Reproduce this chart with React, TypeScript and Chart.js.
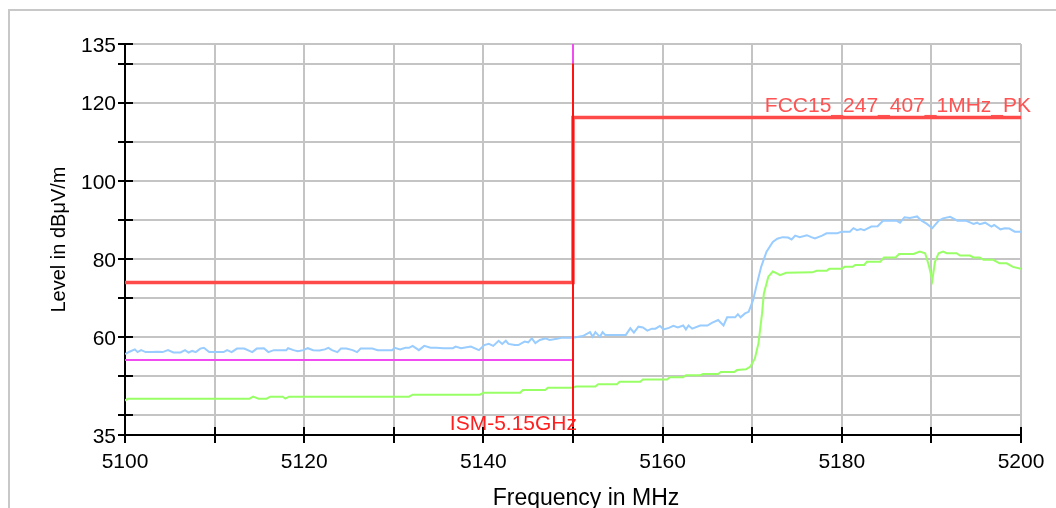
import React, { useEffect, useRef } from 'react';
import { Chart, registerables } from 'chart.js';

Chart.register(...registerables);

const FONT = "'Liberation Sans', Arial, Helvetica, sans-serif";

// Axis ticks and labels
const xTickValues = [5100, 5110, 5120, 5130, 5140, 5150, 5160, 5170, 5180, 5190, 5200];
const xLabelValues = [5100, 5120, 5140, 5160, 5180, 5200];
const yTickValues = [35, 40, 50, 60, 70, 80, 90, 100, 110, 120, 130, 135];
const yLabelValues = [35, 60, 80, 100, 120, 135];

// Peak trace (light blue)
const blueFreq = [
  5100.0, 5100.5, 5101.1, 5101.4, 5101.8, 5102.3, 5103.0, 5103.6, 5104.2, 5104.8,
  5105.4, 5106.2, 5106.7, 5107.1, 5107.5, 5107.9, 5108.4, 5108.8, 5109.4, 5110.0,
  5111.0, 5111.4, 5111.9, 5112.5, 5113.3, 5114.2, 5114.7, 5115.5, 5116.0, 5116.6,
  5117.3, 5118.0, 5118.2, 5118.8, 5119.3, 5119.9, 5120.4, 5121.0, 5121.7, 5122.3,
  5122.7, 5123.1, 5123.7, 5124.1, 5124.7, 5125.4, 5125.9, 5126.3, 5127.6, 5128.2,
  5129.8, 5130.1, 5130.7, 5131.3, 5131.7, 5132.1, 5132.8, 5133.4, 5134.1, 5134.8,
  5135.5, 5136.6, 5136.9, 5137.5, 5138.6, 5139.5, 5140.1, 5140.6, 5141.1, 5141.7,
  5142.1, 5142.5, 5142.8, 5143.5, 5143.9, 5144.6, 5145.0, 5145.4, 5145.8, 5146.3,
  5146.9, 5147.4, 5148.2, 5148.8, 5150.0, 5151.1, 5151.9, 5152.2, 5152.5, 5153.0,
  5153.3, 5153.6, 5155.9, 5156.4, 5156.8, 5157.3, 5157.8, 5158.3, 5158.8, 5159.2,
  5159.7, 5160.1, 5160.7, 5161.2, 5161.7, 5162.3, 5162.6, 5162.9, 5163.3, 5164.2,
  5165.0, 5165.5, 5166.2, 5166.8, 5167.2, 5168.1, 5168.4, 5168.7, 5169.2, 5169.6,
  5170.1, 5170.5, 5171.0, 5171.6, 5172.3, 5172.8, 5173.4, 5174.0, 5174.4, 5174.8,
  5175.3, 5176.1, 5176.6, 5177.0, 5177.8, 5178.3, 5179.5, 5180.0, 5180.9, 5181.3,
  5181.7, 5182.1, 5182.5, 5183.3, 5184.0, 5184.6, 5186.1, 5186.5, 5187.0, 5187.6,
  5188.0, 5188.4, 5188.9, 5189.5, 5190.1, 5190.8, 5191.3, 5192.1, 5192.9, 5193.9,
  5194.3, 5194.7, 5195.1, 5195.4, 5196.0, 5196.7, 5197.0, 5197.7, 5198.2, 5198.7,
  5199.3, 5200.0,
];
const blueLevel = [
  55.7, 56.3, 56.9, 56.2, 56.7, 56.2, 56.2, 56.3, 56.2, 56.7,
  56.1, 56.1, 56.7, 56.1, 56.5, 56.2, 57.1, 57.3, 56.2, 56.2,
  56.2, 56.7, 56.2, 57.1, 57.1, 56.2, 57.1, 57.2, 56.2, 56.7,
  56.7, 56.7, 57.2, 56.7, 56.4, 56.7, 57.2, 56.7, 56.6, 56.9,
  57.3, 56.7, 56.2, 57.1, 57.1, 56.7, 56.2, 57.1, 57.1, 56.7,
  56.7, 57.3, 56.9, 57.3, 57.3, 57.8, 56.7, 57.8, 57.3, 57.3,
  57.2, 57.2, 57.6, 57.2, 57.6, 56.7, 58.0, 58.3, 57.8, 59.1,
  58.3, 59.1, 58.3, 58.0, 58.0, 58.9, 58.7, 59.7, 58.5, 59.3,
  59.7, 59.3, 59.6, 59.9, 59.9, 60.3, 61.3, 60.1, 61.3, 60.1,
  61.3, 60.6, 60.6, 62.3, 61.2, 62.7, 62.5, 61.7, 62.2, 62.2,
  62.9, 62.0, 62.4, 62.9, 62.5, 63.0, 62.0, 63.0, 62.2, 63.0,
  63.0, 63.7, 64.4, 63.0, 65.1, 65.1, 65.9, 65.1, 66.1, 66.5,
  69.5, 73.4, 78.0, 81.9, 84.4, 85.2, 85.6, 85.5, 85.0, 86.0,
  85.6, 86.1, 85.6, 85.3, 86.0, 86.6, 86.6, 87.0, 87.0, 87.9,
  87.4, 87.7, 87.4, 88.3, 88.4, 89.8, 89.8, 89.3, 90.7, 90.5,
  90.7, 90.9, 89.8, 89.0, 87.9, 89.8, 90.4, 90.8, 89.8, 89.8,
  89.4, 89.0, 89.3, 88.9, 89.3, 88.3, 88.7, 87.6, 87.9, 87.8,
  87.0, 87.0,
];

// Average trace (light green)
const greenFreq = [
  5100.0, 5100.3, 5113.9, 5114.3, 5114.9, 5115.8, 5116.2, 5117.6, 5117.9, 5118.3,
  5131.7, 5132.1, 5139.6, 5140.0, 5144.1, 5144.4, 5146.9, 5147.2, 5150.0, 5150.3,
  5152.5, 5152.8, 5154.9, 5155.2, 5157.5, 5157.8, 5160.5, 5160.8, 5162.3, 5162.6,
  5164.2, 5164.5, 5166.2, 5166.5, 5168.0, 5168.3, 5169.3, 5169.8, 5170.3, 5170.7,
  5171.1, 5171.3, 5171.8, 5172.3, 5172.7, 5173.1, 5173.8, 5176.7, 5177.2, 5178.3,
  5178.6, 5180.0, 5180.3, 5181.2, 5181.5, 5182.5, 5182.8, 5184.3, 5184.7, 5186.0,
  5186.4, 5188.0, 5188.7, 5189.3, 5189.7, 5190.1, 5190.4, 5190.8, 5191.3, 5191.7,
  5192.8, 5193.2, 5194.3, 5194.7, 5195.4, 5195.8, 5196.9, 5197.6, 5198.4, 5199.1,
  5200.0,
];
const greenLevel = [
  43.8, 44.3, 44.3, 44.8, 44.3, 44.3, 44.8, 44.8, 44.3, 44.8,
  44.8, 45.3, 45.3, 45.8, 45.8, 46.5, 46.5, 47.1, 47.1, 47.4,
  47.4, 48.0, 48.0, 48.6, 48.6, 49.2, 49.2, 49.8, 49.8, 50.3,
  50.3, 50.6, 50.6, 51.1, 51.1, 51.6, 51.8, 52.5, 54.6, 58.5,
  66.1, 71.2, 75.5, 76.8, 76.4, 75.9, 76.5, 76.6, 77.0, 77.0,
  77.5, 77.5, 78.0, 78.0, 78.5, 78.5, 79.3, 79.3, 80.4, 80.4,
  81.3, 81.3, 81.9, 81.5, 78.5, 74.6, 79.3, 81.5, 81.9, 81.5,
  81.5, 80.9, 80.9, 80.4, 80.4, 79.8, 79.8, 78.9, 78.9, 78.0,
  77.5,
];

// Limit line (FCC 15.247 / 15.407 peak)
const limitFreq = [5100, 5150, 5150, 5200];
const limitLevel = [74, 74, 116.2, 116.2];
const limitLabel = 'FCC15_247_407_1MHz_PK';

// Restricted-band line (magenta)
const bandFreq = [5100, 5150, 5150];
const bandLevel = [54.2, 54.2, 135];

// Band-edge marker (red)
const markerFreq = [5150, 5150];
const markerLevel = [35, 130];
const markerLabel = 'ISM-5.15GHz';

const xTitle = 'Frequency in MHz';
const yTitle = 'Level in dBμV/m';

const toPoints = (xs: number[], ys: number[]) => xs.map((x, i) => ({ x, y: ys[i] }));

const overlayPlugin = {
  id: 'overlay',
  afterDraw(chart: any) {
    const { ctx, chartArea } = chart;
    const xs = chart.scales.x;
    const ys = chart.scales.y;
    ctx.save();
    // axis-crossing tick marks
    ctx.strokeStyle = '#000';
    ctx.lineWidth = 2;
    xs.ticks.forEach((t: any) => {
      const px = Math.round(xs.getPixelForValue(t.value));
      ctx.beginPath();
      ctx.moveTo(px, chartArea.bottom - 8);
      ctx.lineTo(px, chartArea.bottom + 8);
      ctx.stroke();
    });
    ys.ticks.forEach((t: any) => {
      const py = Math.round(ys.getPixelForValue(t.value));
      ctx.beginPath();
      ctx.moveTo(chartArea.left - 7, py);
      ctx.lineTo(chartArea.left + 8, py);
      ctx.stroke();
    });
    // limit label
    ctx.font = `21px ${FONT}`;
    ctx.textBaseline = 'alphabetic';
    ctx.textAlign = 'right';
    ctx.fillStyle = '#ff5252';
    ctx.fillText(limitLabel, xs.getPixelForValue(limitFreq[3]) + 10, ys.getPixelForValue(limitLevel[3]) - 6);
    // marker label
    ctx.fillStyle = '#ff1f1f';
    ctx.fillText(markerLabel, xs.getPixelForValue(markerFreq[0]) + 4, chartArea.bottom - 5);
    // x-axis title
    ctx.font = `23px ${FONT}`;
    ctx.textAlign = 'center';
    ctx.fillStyle = '#000';
    ctx.fillText(xTitle, (chartArea.left + chartArea.right) / 2 + 13, chartArea.bottom + 70);
    ctx.restore();
  },
};

export default function App() {
  const canvasRef = useRef<HTMLCanvasElement | null>(null);

  useEffect(() => {
    if (!canvasRef.current) return;
    const chart = new Chart(canvasRef.current, {
      type: 'line',
      data: {
        datasets: [
          {
            label: markerLabel,
            data: toPoints(markerFreq, markerLevel),
            borderColor: '#ff1414',
            borderWidth: 2,
            pointRadius: 0,
            order: 1,
          },
          {
            label: limitLabel,
            data: toPoints(limitFreq, limitLevel),
            borderColor: '#ff4a4a',
            borderWidth: 3.5,
            pointRadius: 0,
            order: 2,
          },
          {
            label: 'Restricted band',
            data: toPoints(bandFreq, bandLevel),
            borderColor: '#f04cf0',
            borderWidth: 2,
            pointRadius: 0,
            order: 3,
          },
          {
            label: 'Peak',
            data: toPoints(blueFreq, blueLevel),
            borderColor: '#99ccff',
            borderWidth: 2,
            pointRadius: 0,
            order: 4,
          },
          {
            label: 'Average',
            data: toPoints(greenFreq, greenLevel),
            borderColor: '#99ff66',
            borderWidth: 2,
            pointRadius: 0,
            order: 5,
          },
        ],
      },
      options: {
        animation: false,
        responsive: true,
        maintainAspectRatio: false,
        events: [],
        layout: { padding: { top: 33, right: 35, left: 0, bottom: 0 } },
        plugins: {
          legend: { display: false },
          tooltip: { enabled: false },
        },
        elements: { line: { tension: 0 } },
        scales: {
          x: {
            type: 'linear',
            min: 5100,
            max: 5200,
            afterBuildTicks: (s: any) => {
              s.ticks = xTickValues.map((v) => ({ value: v }));
            },
            afterFit: (s: any) => {
              s.height = 96;
              s.paddingLeft = 0;
              s.paddingRight = 0;
            },
            grid: { color: '#c4c4c4', lineWidth: 2, drawTicks: false },
            border: { color: '#000', width: 2 },
            ticks: {
              padding: 15,
              color: '#000',
              maxRotation: 0,
              autoSkip: false,
              font: { family: FONT, size: 21 },
              callback: (v: any) => (xLabelValues.includes(Number(v)) ? String(v) : ''),
            },
          },
          y: {
            type: 'linear',
            min: 35,
            max: 135,
            afterBuildTicks: (s: any) => {
              s.ticks = yTickValues.map((v) => ({ value: v }));
            },
            afterFit: (s: any) => {
              s.width = 115;
            },
            grid: { color: '#c4c4c4', lineWidth: 2, drawTicks: false },
            border: { color: '#000', width: 2 },
            ticks: {
              padding: 9,
              labelOffset: 2,
              color: '#000',
              autoSkip: false,
              font: { family: FONT, size: 21 },
              callback: (v: any) => (yLabelValues.includes(Number(v)) ? String(v) : ''),
            },
            title: {
              display: true,
              text: yTitle,
              color: '#000',
              font: { family: FONT, size: 20 },
              padding: { top: 37, bottom: 0 },
            },
          },
        },
      } as any,
      plugins: [overlayPlugin],
    });
    return () => chart.destroy();
  }, []);

  return (
    <div
      style={{
        position: 'absolute',
        left: 8,
        top: 9,
        width: 1048,
        height: 499,
        boxSizing: 'border-box',
        borderTop: '2px solid #c8c8c8',
        borderLeft: '2px solid #c8c8c8',
        overflow: 'hidden',
        background: '#fff',
      }}
    >
      <div style={{ position: 'relative', width: 1046, height: 520 }}>
        <canvas ref={canvasRef} />
      </div>
    </div>
  );
}
